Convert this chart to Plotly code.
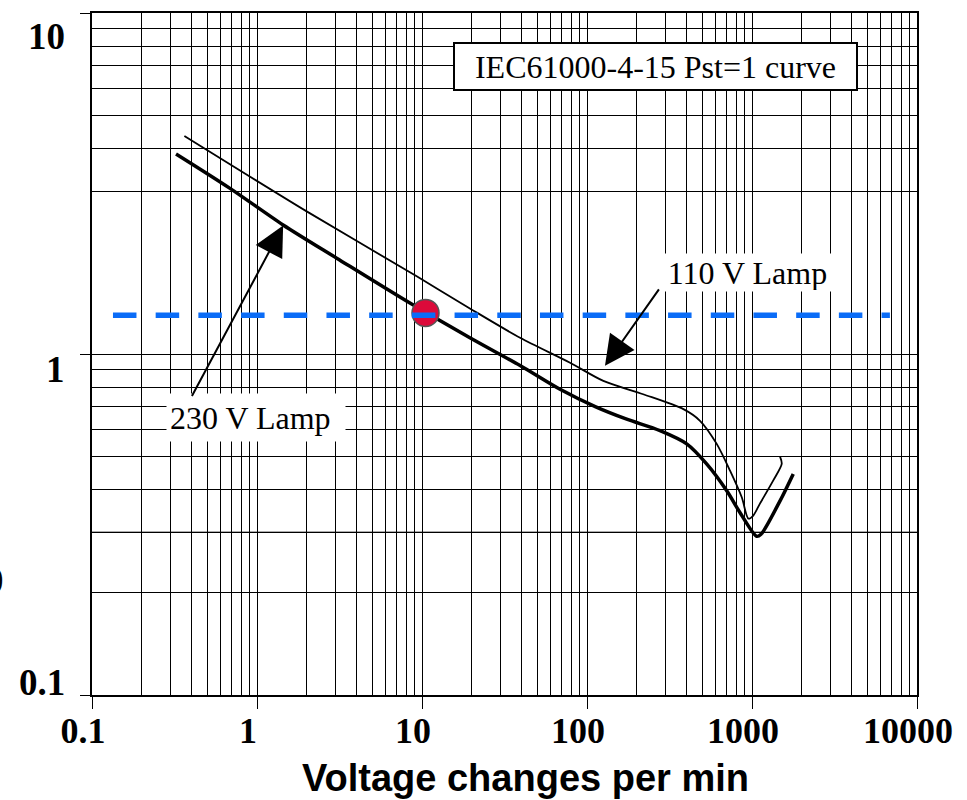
import math
import plotly.graph_objects as go

# Pst = 1 flicker curves: rectangular voltage changes per minute vs. relative voltage change (%)
lamp230_rate = [0.323, 0.686, 1.44, 3.04, 8.45, 19.5, 39.3, 68.6, 113, 174, 277, 402,
                531, 703, 845, 1067, 1134, 1479, 1778]
lamp230_dv = [3.86, 3.06, 2.39, 1.91, 1.41, 1.116, 0.925, 0.788, 0.70, 0.644, 0.596, 0.545,
              0.476, 0.397, 0.343, 0.292, 0.296, 0.371, 0.445]

lamp110_rate = [0.363, 2.0, 9.29, 19.5, 39.3, 78.9, 125.6, 219, 384, 484, 611,
                736, 867, 951, 1018, 1117, 1346, 1514, 1479]
lamp110_dv = [4.36, 2.62, 1.69, 1.36, 1.116, 0.943, 0.834, 0.762, 0.689, 0.637, 0.545,
              0.455, 0.380, 0.329, 0.336, 0.364, 0.426, 0.476, 0.50]

# measured operating point and its voltage-change level
point_rate = [10.5]
point_dv = [1.32]
level_rate = [0.134, 6850]
level_dv = [1.3, 1.3]

# axis ticks
x_ticks = [0.1, 1, 10, 100, 1000, 10000]
x_ticktext = ["0.1", "1", "10", "100", "1000", "10000"]
y_ticks = [0.1, 1, 10]
y_ticktext = ["0.1", "1", "10"]
grid_digits = [2, 3, 4, 5, 6, 7, 8, 9]

x_minor = [d * 10.0 ** e for e in range(-1, 4) for d in grid_digits]
y_minor = [d * 10.0 ** e for e in range(-1, 1) for d in grid_digits if not (e == 0 and d == 2)]

SERIF = "Liberation Serif, Times New Roman, serif"
SANS = "Liberation Sans, Arial, sans-serif"
GRID = "#000000"

fig = go.Figure()

fig.add_trace(go.Scatter(
    x=lamp230_rate, y=lamp230_dv, mode="lines", name="230 V Lamp",
    line=dict(color="black", width=3.5, shape="spline", smoothing=0.8),
))
fig.add_trace(go.Scatter(
    x=lamp110_rate, y=lamp110_dv, mode="lines", name="110 V Lamp",
    line=dict(color="black", width=1.8, shape="spline", smoothing=0.8),
))
fig.add_trace(go.Scatter(
    x=point_rate, y=point_dv, mode="markers", name="point",
    marker=dict(size=27, color="#dc0a3a", line=dict(color="#555555", width=1.5)),
))
fig.add_trace(go.Scatter(
    x=level_rate, y=level_dv, mode="lines", name="level",
    line=dict(color="#0a6cf7", width=5.5, dash="23.5px,19.2px"),
))

annotations = [
    dict(text="IEC61000-4-15 Pst=1 curve", xref="paper", yref="paper", x=0.683, y=0.9218,
         xanchor="center", yanchor="middle", showarrow=False,
         font=dict(family=SERIF, size=32, color="black"),
         bgcolor="white", bordercolor="black", borderwidth=2, borderpad=0,
         width=401, height=45),
    dict(text="110 V Lamp", xref="paper", yref="paper", x=0.7945, y=0.6192,
         xanchor="center", yanchor="middle", showarrow=False,
         font=dict(family=SERIF, size=32, color="black"),
         bgcolor="white", borderpad=1, width=169, height=35),
    dict(text="230 V Lamp", xref="paper", yref="paper", x=0.1988, y=0.4072,
         xanchor="center", yanchor="middle", showarrow=False, align="left",
         font=dict(family=SERIF, size=32, color="black"),
         bgcolor="white", borderpad=3, width=172, height=41),
    dict(text="", xref="x", yref="y", x=math.log10(128.5), y=math.log10(0.923),
         ax=55, ay=-78, showarrow=True, arrowhead=2, arrowsize=3, arrowwidth=2,
         arrowcolor="black", standoff=0),
    dict(text="", xref="x", yref="y", x=math.log10(1.44), y=math.log10(2.38),
         ax=-92, ay=172, showarrow=True, arrowhead=2, arrowsize=3, arrowwidth=2,
         arrowcolor="black", standoff=0),
    dict(text="Voltage changes per min", xref="paper", yref="paper", x=0.526, y=-0.1213,
         xanchor="center", yanchor="middle", showarrow=False,
         font=dict(family=SANS, size=38, color="black", weight="bold")),
    dict(text="0", xref="paper", yref="paper", x=0, y=0.168, xshift=-86,
         xanchor="right", yanchor="middle", showarrow=False,
         font=dict(family=SERIF, size=37, color="black", weight="bold")),
]

# y tick labels sit at individual offsets from their ticks
y_label_shift = [13, -15, -23]
for val, txt, dy in zip(y_ticks, y_ticktext, y_label_shift):
    annotations.append(dict(
        text=txt, xref="paper", yref="y", x=0, y=math.log10(val), xshift=-25, yshift=dy,
        xanchor="right", yanchor="middle", showarrow=False,
        font=dict(family=SERIF, size=37, color="black", weight="bold"),
    ))

fig.update_layout(
    width=967, height=800,
    margin=dict(l=92, r=50, t=11, b=105),
    paper_bgcolor="white", plot_bgcolor="white",
    showlegend=False,
    annotations=annotations,
    shapes=[dict(type="line", xref="paper", x0=0, x1=1, yref="y",
                 y0=math.log10(2), y1=math.log10(2), layer="below",
                 line=dict(color="#8c8c8c", width=1))],
)

fig.update_xaxes(
    type="log", range=[-1, 4],
    tickmode="array", tickvals=x_ticks, ticktext=x_ticktext,
    ticks="outside", ticklen=12, tickwidth=1.2, tickcolor="black",
    ticklabelshift=-9, ticklabelstandoff=-9,
    tickfont=dict(family=SERIF, size=36, color="black", weight="bold"),
    showgrid=True, gridcolor=GRID, gridwidth=1.2,
    minor=dict(tickmode="array", tickvals=x_minor, showgrid=True,
               gridcolor=GRID, gridwidth=1.2, ticks=""),
    showline=True, linecolor="black", linewidth=1.5, mirror=True,
    zeroline=False,
)
fig.update_yaxes(
    type="log", range=[-1, 1],
    tickmode="array", tickvals=y_ticks, showticklabels=False,
    ticks="outside", ticklen=10, tickwidth=1.2, tickcolor="black",
    showgrid=True, gridcolor=GRID, gridwidth=1.2,
    minor=dict(tickmode="array", tickvals=y_minor, showgrid=True,
               gridcolor=GRID, gridwidth=1.2, ticks=""),
    showline=True, linecolor="black", linewidth=1.5, mirror=True,
    zeroline=False,
)

fig.write_html("out.html")
